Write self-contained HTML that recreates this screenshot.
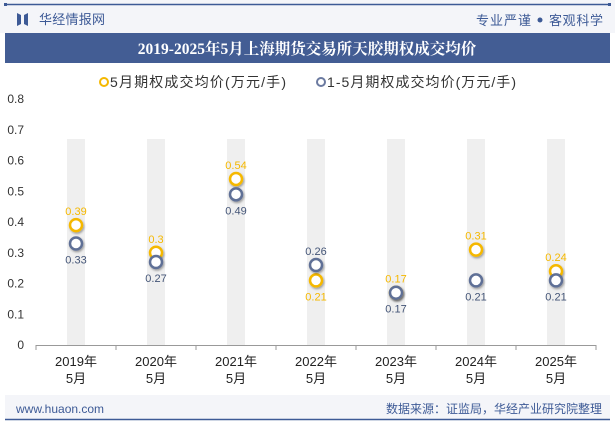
<!DOCTYPE html>
<html><head><meta charset="utf-8">
<style>
body{margin:0;width:615px;height:427px;overflow:hidden;background:#fff;font-family:"Liberation Sans","Noto Sans CJK SC",sans-serif;}
</style></head>
<body>
<svg width="615" height="427" xmlns="http://www.w3.org/2000/svg">
<defs><filter id="sh" x="-50%" y="-50%" width="200%" height="200%"><feDropShadow dx="1" dy="1.5" stdDeviation="1" flood-color="#000" flood-opacity="0.35"/></filter></defs>
<rect x="0" y="0" width="615" height="33" fill="#f4f5f9"/>
<line x1="5" y1="4.5" x2="610" y2="4.5" stroke="#3d5a96" stroke-width="1.5"/>
<rect x="4" y="3" width="3" height="3" fill="#3d5a96"/><rect x="608" y="3" width="3" height="3" fill="#3d5a96"/>
<g><path d="M17,13 L21,15 L21,24 L17,26 Z M28,13 L24,15 L24,24 L28,26 Z" fill="#3d5a96"/></g>
<text x="39" y="24" font-size="13" fill="#3d5a96" textLength="66">华经情报网</text>
<text x="476" y="25" font-size="13" fill="#3d5a96" textLength="55">专业严谨</text>
<circle cx="540" cy="20" r="2.5" fill="#3d5a96"/>
<text x="549" y="25" font-size="13" fill="#3d5a96" textLength="54">客观科学</text>
<rect x="5" y="33" width="605" height="30" fill="#435d94"/>
<text x="307" y="54" font-size="15.5" font-weight="bold" fill="#fff" text-anchor="middle" font-family="'Liberation Serif','Noto Serif CJK SC',serif">2019-2025年5月上海期货交易所天胶期权成交均价</text>
<g>
<circle cx="104" cy="82" r="4" fill="#fff" stroke="#f5b800" stroke-width="2"/>
<text x="110" y="87" font-size="14" fill="#333" textLength="176">5月期权成交均价(万元/手)</text>
<circle cx="321" cy="82" r="4" fill="#fff" stroke="#6b7aa0" stroke-width="2"/>
<text x="327" y="87" font-size="14" fill="#333" textLength="189">1-5月期权成交均价(万元/手)</text>
</g>
<g id="plot"></g>
<rect x="5" y="395" width="605" height="24" fill="#f4f5f9"/>
<line x1="5" y1="419.5" x2="610" y2="419.5" stroke="#3d5a96" stroke-width="1.5"/>
<text x="16" y="413" font-size="12" fill="#3d5a96">www.huaon.com</text>
<text x="602" y="413" font-size="12" fill="#3d5a96" text-anchor="end">数据来源：证监局，华经产业研究院整理</text>
</svg>
<script>
const categories=["2019年","2020年","2021年","2022年","2023年","2024年","2025年"];
const series1=[0.39,0.3,0.54,0.21,0.17,0.31,0.24];
const series2=[0.33,0.27,0.49,0.26,0.17,0.21,0.21];
const yTicks=[0,0.1,0.2,0.3,0.4,0.5,0.6,0.7,0.8];
const NS="http://www.w3.org/2000/svg";
const g=document.getElementById('plot');
const x0=36,x1=596,y0=345,yTop=99,yMax=0.8;
const bw=(x1-x0)/categories.length;
const xs=i=>x0+bw*(i+0.5);
const ys=v=>y0-(v/yMax)*(y0-yTop);
function mk(t,a,p){const e=document.createElementNS(NS,t);for(const k in a)e.setAttribute(k,a[k]);(p||g).appendChild(e);return e;}
categories.forEach((c,i)=>{
 const b=mk('rect',{x:xs(i)-9,y:ys(0.67),width:18,height:y0-ys(0.67),fill:'#efefef'});
 
 
});
yTicks.forEach(v=>{
 const t=mk('text',{x:24,y:ys(v)+4,'font-size':12,fill:'#333','text-anchor':'end'});t.textContent=v;
 
 
});
const ax=mk('line',{x1:x0,y1:y0+0.5,x2:x1,y2:y0+0.5,stroke:'#999'});


for(let i=0;i<=categories.length;i++)mk('line',{x1:x0+bw*i,y1:y0,x2:x0+bw*i,y2:y0+5,stroke:'#999'});
categories.forEach((c,i)=>{
 const t=mk('text',{x:xs(i),y:366,'font-size':13,fill:'#222','text-anchor':'middle'});t.textContent=c;
 
 
 const t2=mk('text',{x:xs(i),y:383,'font-size':13,fill:'#222','text-anchor':'middle'});t2.textContent='5月';
 
 
});
categories.forEach((c,i)=>{
 const a=series1[i],b=series2[i];
 const p1=mk('circle',{cx:xs(i),cy:ys(a),r:6,fill:'#fff',stroke:'#f5b800','stroke-width':2.5,filter:'url(#sh)'});
 
 
 const p2=mk('circle',{cx:xs(i),cy:ys(b),r:6,fill:'#fff',stroke:'#5f6f96','stroke-width':2.5,filter:'url(#sh)'});
 
 
 const aAbove=a>=b;
 const l1=mk('text',{x:xs(i),y:aAbove?ys(a)-10:ys(a)+20,'font-size':11,fill:'#f5b800','text-anchor':'middle'});l1.textContent=a;
 
 
 const l2=mk('text',{x:xs(i),y:aAbove?ys(b)+20:ys(b)-10,'font-size':11,fill:'#445577','text-anchor':'middle'});l2.textContent=b;
 
 
});
</script>
</body></html>
